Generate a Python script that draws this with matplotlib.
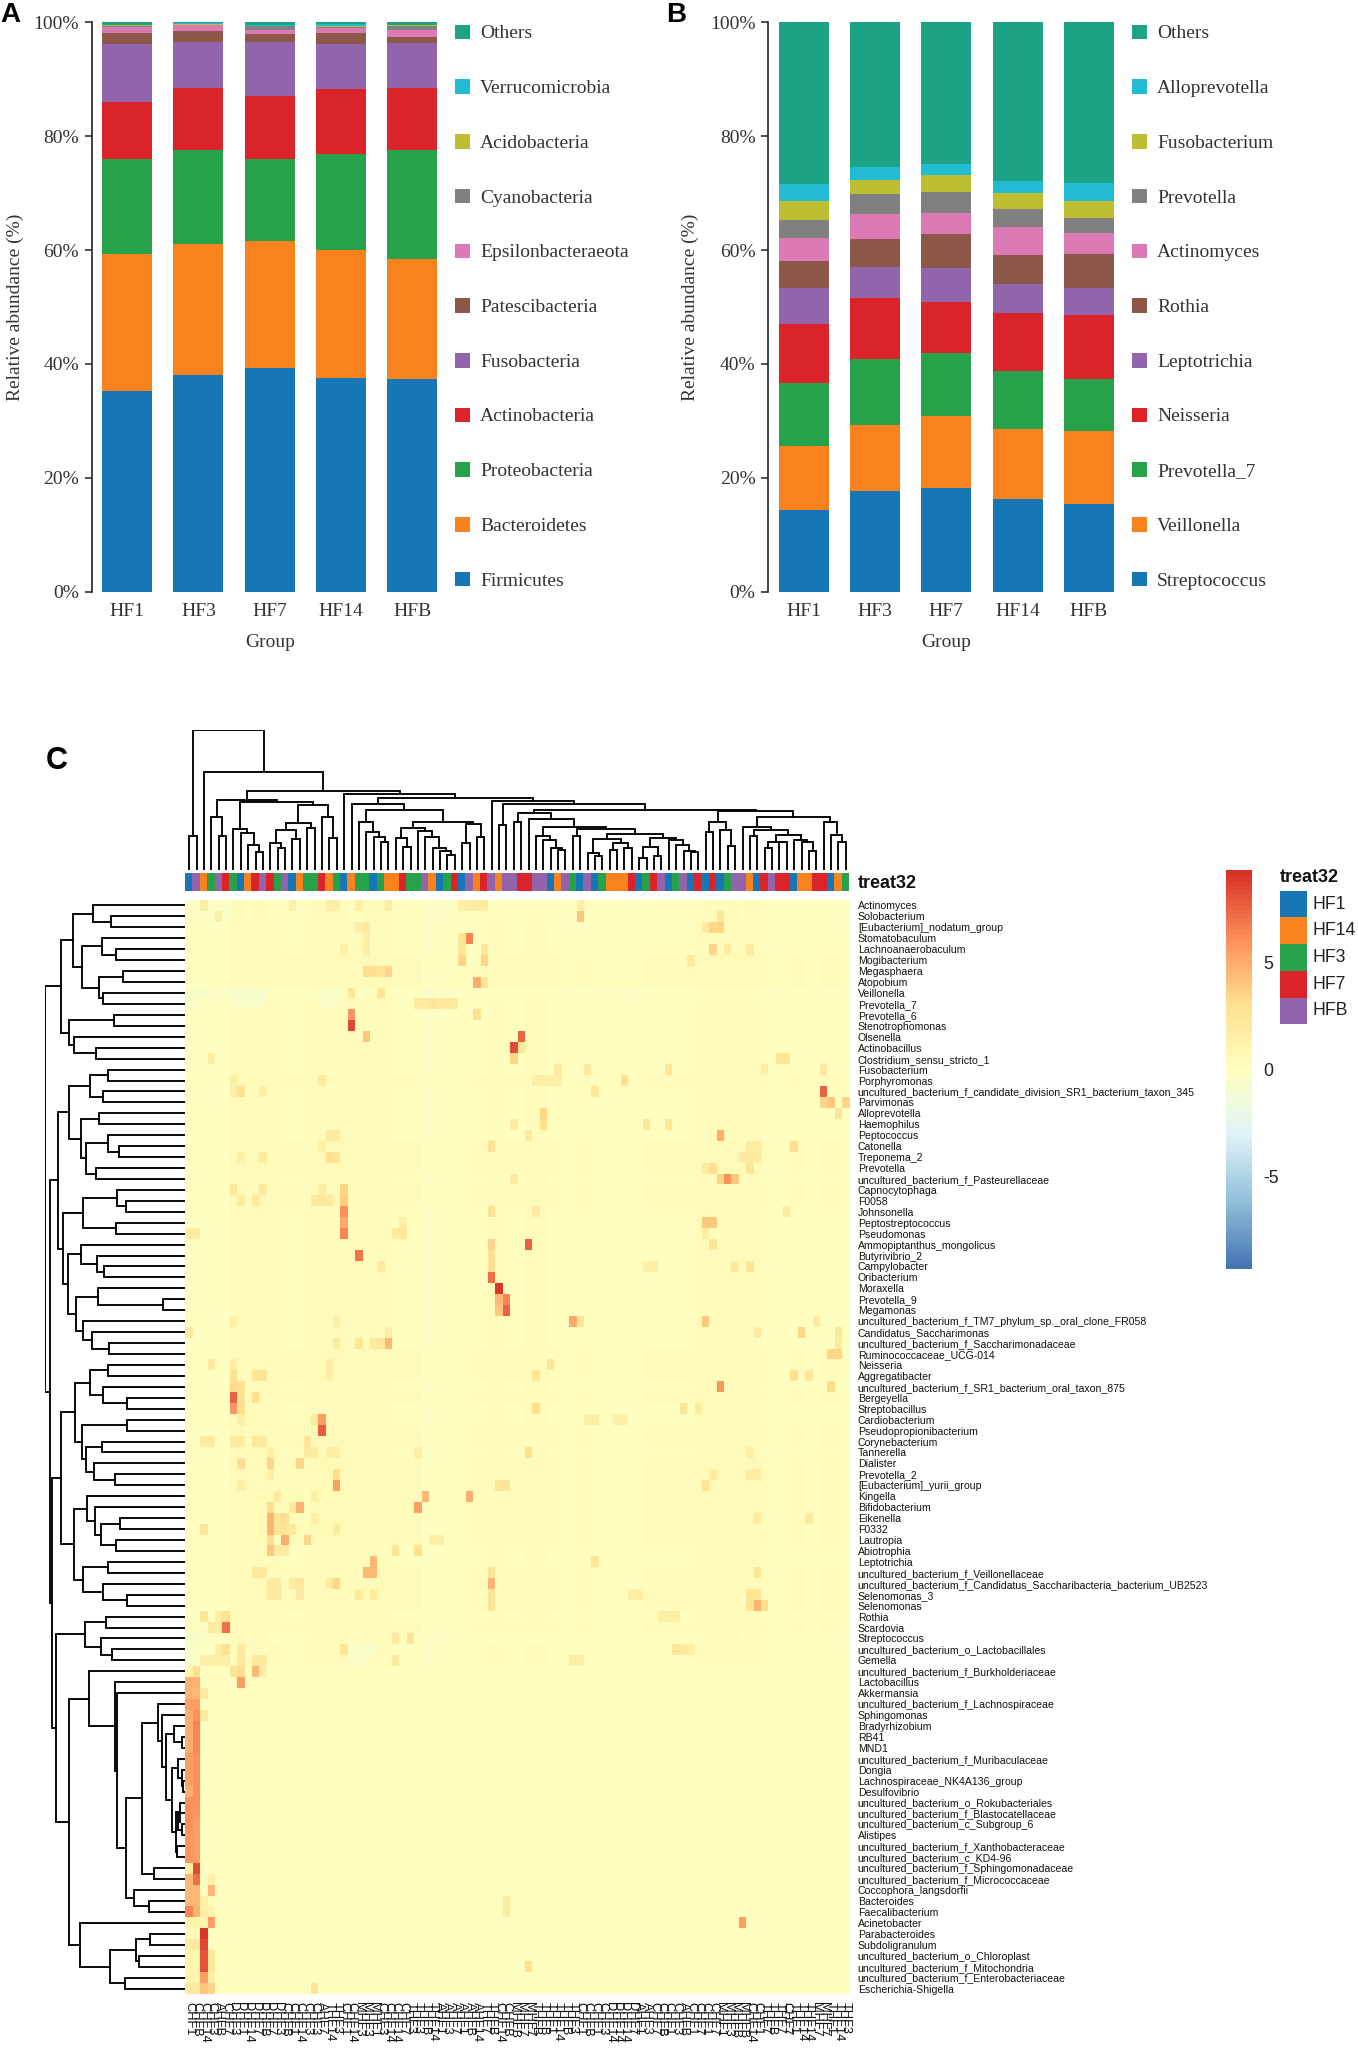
import numpy as np
import matplotlib
matplotlib.use("Agg")
import matplotlib.pyplot as plt
from matplotlib.colors import LinearSegmentedColormap, ListedColormap
from matplotlib.patches import Rectangle

W, H = 1358, 2048
SERIF = "Liberation Serif"
SANS = "Liberation Sans"

groups = ["HF1", "HF3", "HF7", "HF14", "HFB"]
bar_colors = ["#1776B6", "#F8821E", "#27A24A", "#DB2429", "#9264AB", "#8D5749",
              "#DC7AB5", "#808080", "#BDBE31", "#21BCD2", "#1DA385"]

# panel A, cumulative top of each taxon per group
taxa_a = ["Firmicutes", "Bacteroidetes", "Proteobacteria", "Actinobacteria", "Fusobacteria",
          "Patescibacteria", "Epsilonbacteraeota", "Cyanobacteria", "Acidobacteria",
          "Verrucomicrobia", "Others"]
a_hf1 = [35.3, 59.3, 76.0, 86.0, 96.2, 98.2, 99.1, 99.3, 99.5, 99.6, 100]
a_hf3 = [38.1, 61.0, 77.5, 88.5, 96.5, 98.5, 99.5, 99.6, 99.7, 99.8, 100]
a_hf7 = [39.3, 61.6, 76.0, 87.1, 96.5, 97.9, 98.7, 99.3, 99.4, 99.6, 100]
a_hf14 = [37.5, 60.0, 76.8, 88.3, 96.2, 98.2, 99.0, 99.2, 99.3, 99.7, 100]
a_hfb = [37.3, 58.5, 77.5, 88.5, 96.4, 97.5, 98.7, 99.3, 99.5, 99.6, 100]

# panel B
taxa_b = ["Streptococcus", "Veillonella", "Prevotella_7", "Neisseria", "Leptotrichia", "Rothia",
          "Actinomyces", "Prevotella", "Fusobacterium", "Alloprevotella", "Others"]
b_hf1 = [14.4, 25.6, 36.7, 47.0, 53.4, 58.0, 62.1, 65.3, 68.7, 71.6, 100]
b_hf3 = [17.7, 29.3, 40.9, 51.6, 57.0, 62.0, 66.4, 69.8, 72.3, 74.6, 100]
b_hf7 = [18.2, 30.9, 42.0, 50.8, 56.8, 62.8, 66.6, 70.2, 73.1, 75.2, 100]
b_hf14 = [16.3, 28.5, 38.8, 49.0, 54.0, 59.2, 64.0, 67.3, 70.1, 72.1, 100]
b_hfb = [15.5, 28.2, 37.3, 48.6, 53.4, 59.4, 63.0, 65.7, 68.6, 71.8, 100]

# heatmap rows
row_labels = [
    "Actinomyces", "Solobacterium", "[Eubacterium]_nodatum_group", "Stomatobaculum",
    "Lachnoanaerobaculum", "Mogibacterium", "Megasphaera", "Atopobium", "Veillonella",
    "Prevotella_7", "Prevotella_6", "Stenotrophomonas", "Olsenella", "Actinobacillus",
    "Clostridium_sensu_stricto_1", "Fusobacterium", "Porphyromonas",
    "uncultured_bacterium_f_candidate_division_SR1_bacterium_taxon_345", "Parvimonas",
    "Alloprevotella", "Haemophilus", "Peptococcus", "Catonella", "Treponema_2", "Prevotella",
    "uncultured_bacterium_f_Pasteurellaceae", "Capnocytophaga", "F0058", "Johnsonella",
    "Peptostreptococcus", "Pseudomonas", "Ammopiptanthus_mongolicus", "Butyrivibrio_2",
    "Campylobacter", "Oribacterium", "Moraxella", "Prevotella_9", "Megamonas",
    "uncultured_bacterium_f_TM7_phylum_sp._oral_clone_FR058", "Candidatus_Saccharimonas",
    "uncultured_bacterium_f_Saccharimonadaceae", "Ruminococcaceae_UCG-014", "Neisseria",
    "Aggregatibacter", "uncultured_bacterium_f_SR1_bacterium_oral_taxon_875", "Bergeyella",
    "Streptobacillus", "Cardiobacterium", "Pseudopropionibacterium", "Corynebacterium",
    "Tannerella", "Dialister", "Prevotella_2", "[Eubacterium]_yurii_group", "Kingella",
    "Bifidobacterium", "Eikenella", "F0332", "Lautropia", "Abiotrophia", "Leptotrichia",
    "uncultured_bacterium_f_Veillonellaceae",
    "uncultured_bacterium_f_Candidatus_Saccharibacteria_bacterium_UB2523", "Selenomonas_3",
    "Selenomonas", "Rothia", "Scardovia", "Streptococcus",
    "uncultured_bacterium_o_Lactobacillales", "Gemella", "uncultured_bacterium_f_Burkholderiaceae",
    "Lactobacillus", "Akkermansia", "uncultured_bacterium_f_Lachnospiraceae", "Sphingomonas",
    "Bradyrhizobium", "RB41", "MND1", "uncultured_bacterium_f_Muribaculaceae", "Dongia",
    "Lachnospiraceae_NK4A136_group", "Desulfovibrio", "uncultured_bacterium_o_Rokubacteriales",
    "uncultured_bacterium_f_Blastocatellaceae", "uncultured_bacterium_c_Subgroup_6", "Alistipes",
    "uncultured_bacterium_f_Xanthobacteraceae", "uncultured_bacterium_c_KD4-96",
    "uncultured_bacterium_f_Sphingomonadaceae", "uncultured_bacterium_f_Micrococcaceae",
    "Coccophora_langsdorfii", "Bacteroides", "Faecalibacterium", "Acinetobacter",
    "Parabacteroides", "Subdoligranulum", "uncultured_bacterium_o_Chloroplast",
    "uncultured_bacterium_f_Mitochondria", "uncultured_bacterium_f_Enterobacteriaceae",
    "Escherichia-Shigella",
]

# group of each column, in dendrogram order (index into heat_groups)
heat_groups = ["HF1", "HF14", "HF3", "HF7", "HFB"]
heat_group_colors = ["#1776B6", "#F8821E", "#27A24A", "#DB2429", "#9264AB"]
col_group = "BPOGPRGBORPRGPBOGGROGBOGGBGOORGGPOBGRBPORPOPPRRPPBOPGBPBGOOORBGRPBGPBRBRBGPPOBRPRRBOORRBOG"
first_letters = ("CCCCACDDDD" "DDDCCCCCAT" "TCCMMMCCCC" "TTTTAAAAAA" "TTCCMMMTTT"
                 "TTTCCCCDDD" "DAACCCCACC" "CCMMMMCCTT" "TCTTTMMTTT")
code_to_group = {"B": 0, "O": 1, "G": 2, "R": 3, "P": 4}

# background level per row, the lower part is flat
row_bg = [-0.1, -0.1, 0.0, 0.0, 0.0, 0.1, 0.1, 0.1, -0.2, 0.0,
          0.0, 0.0, 0.0, 0.0, 0.0, 0.0, 0.1, 0.0, 0.0, 0.0,
          0.0, 0.0, 0.1, 0.1, 0.1, 0.0, 0.1, 0.1, 0.0, 0.0,
          0.0, 0.0, 0.0, 0.0, 0.0, 0.0, 0.0, 0.0, 0.0, 0.0,
          0.0, 0.1, 0.1, 0.1, 0.0, 0.1, 0.0, 0.0, 0.1, 0.1,
          0.0, 0.1, 0.1, 0.1, 0.1, 0.1, 0.1, 0.1, 0.1, 0.0,
          0.0, 0.1, 0.1, 0.1, 0.1, 0.0, 0.1, -0.1, 0.0, 0.0,
          0.0, 0.1, 0.1, 0.1, 0.1, 0.1, 0.1, 0.1, 0.1, 0.1,
          0.1, 0.1, 0.1, 0.1, 0.1, 0.1, 0.1, 0.1, 0.1, 0.1,
          0.1, 0.1, 0.1, 0.1, 0.1, 0.1, 0.1, 0.1, 0.1, 0.1]
# column drift, only seen in the rows above the flat block
col_bg = [-0.2, -0.2, -0.1, -0.1, -0.1, -0.1, 0.3, 0.3, 0.2, 0.3,
          0.3, 0.2, 0.2, 0.1, 0.1, 0.1, 0.2, 0.3, 0.3, 0.3,
          0.3, 0.3, 0.2, 0.2, 0.3, 0.3, 0.3, 0.3, 0.1, 0.1,
          0.1, 0.1, -0.2, -0.2, -0.1, -0.1, -0.1, 0.0, 0.0, 0.1,
          0.1, 0.2, 0.2, 0.1, 0.1, 0.1, 0.2, 0.2, 0.2, 0.1,
          0.1, 0.0, 0.0, 0.1, 0.1, 0.0, 0.0, 0.0, 0.0, 0.0,
          -0.1, 0.0, 0.1, 0.1, 0.1, 0.1, 0.1, 0.1, 0.1, 0.2,
          0.3, 0.3, 0.3, 0.3, 0.3, 0.2, 0.3, 0.3, 0.1, 0.0,
          0.0, 0.0, 0.1, 0.1, 0.0, 0.0, 0.1, 0.1, 0.1, 0.0]

# cells with a clearly higher or lower value: (row, column, value)
hot_cells = [
    (1, 53, 4), (3, 38, 6.5), (3, 37, 2.5), (4, 37, 2.5), (5, 37, 3.5), (4, 40, 2.5), (5, 40, 3.5),
    (7, 39, 5), (7, 40, 2.5), (10, 39, 3), (12, 45, 7.5), (13, 44, 8.2), (13, 45, 2.5), (14, 44, 3.5),
    (2, 71, 3.5), (2, 72, 3.5), (1, 72, 2.5), (2, 70, 2), (4, 71, 3.5), (4, 73, 2), (4, 76, 2), (5, 68, 2),
    (17, 86, 7.5), (18, 86, 3.5), (18, 87, 4), (18, 89, 3.5), (19, 88, 2.5), (15, 86, 2),
    (19, 48, 3.5), (20, 48, 3), (16, 59, 3), (17, 55, 2.5), (15, 65, 2.5), (15, 50, 2), (15, 54, 2),
    (21, 72, 5), (22, 82, 3), (22, 41, 2.8), (21, 46, 2), (20, 62, 2.5), (20, 65, 2.5), (20, 44, 2),
    (24, 71, 3), (24, 70, 2), (24, 76, 2.5), (25, 72, 3.5), (25, 73, 6), (25, 74, 4), (25, 44, 2),
    (28, 41, 2.8), (28, 47, 2), (28, 81, 2), (29, 70, 4), (29, 71, 4), (30, 70, 2), (31, 71, 2.5),
    (31, 41, 3.5), (31, 46, 7.5), (32, 41, 3), (33, 41, 3), (34, 41, 7.2), (35, 42, 9), (36, 42, 4.5),
    (36, 43, 6.5), (37, 42, 4), (37, 43, 7.5), (33, 76, 2.5), (33, 74, 2), (38, 52, 5.2), (38, 53, 2.5),
    (38, 70, 4), (39, 83, 3.5), (38, 85, 2), (39, 77, 2), (41, 87, 3.5), (41, 88, 3.5), (39, 88, 2.5),
    (40, 88, 2), (42, 49, 2.5), (43, 47, 2.5), (43, 82, 2.8), (43, 84, 2.5), (44, 72, 5.8), (44, 87, 3.2),
    (46, 47, 3), (46, 67, 2.5), (46, 69, 2), (50, 46, 3), (53, 42, 2.5), (53, 43, 2.5), (54, 32, 4.5),
    (54, 38, 5), (55, 31, 5.5), (52, 71, 2), (53, 70, 2.5), (56, 77, 2), (56, 84, 2), (60, 55, 2.5),
    (62, 41, 4.8), (61, 41, 2.5), (63, 41, 2.5), (64, 41, 2.5), (61, 77, 2.5), (64, 77, 4.8), (64, 78, 3),
    (63, 76, 2.5), (63, 77, 2.5), (64, 76, 2.5), (68, 66, 2.5),
    (0, 2, 1.5), (1, 4, 1.8), (0, 14, 1.5), (0, 19, 1.8), (0, 20, 1.8), (0, 23, 1.5), (0, 27, 2),
    (2, 24, 2), (2, 23, 1.8), (3, 24, 1.5), (4, 24, 1.5), (4, 21, 1.5), (6, 25, 3), (6, 26, 2.5),
    (6, 27, 3.5), (6, 24, 3), (8, 26, 2.5), (8, 22, 2.5), (9, 31, 2), (10, 22, 5.8), (11, 22, 8.5),
    (12, 24, 4), (14, 3, 1.5), (16, 6, 1.5), (16, 18, 2), (17, 7, 2.8), (17, 10, 1.8), (17, 6, 1.5),
    (23, 19, 3), (23, 20, 2.5), (21, 19, 2), (21, 20, 2), (23, 10, 2), (23, 7, 1.5), (22, 18, 1.5),
    (26, 6, 2.5), (26, 10, 2.2), (26, 21, 3.5), (27, 21, 3.8), (26, 18, 1.8), (27, 17, 2.2), (27, 18, 2.2),
    (27, 19, 2.2), (27, 7, 2), (27, 9, 2), (28, 21, 6), (29, 21, 5.2), (30, 21, 6.5), (29, 29, 1.8),
    (30, 29, 2.5), (30, 28, 2), (30, 0, 2), (30, 1, 2),
    (32, 23, 7), (33, 26, 2), (38, 6, 1.5), (38, 20, 1.5), (39, 0, 2), (39, 27, 1.8), (40, 23, 2.5),
    (40, 25, 2.2), (40, 26, 2.2), (40, 27, 4.5), (40, 20, 2), (42, 6, 1.8), (42, 3, 2), (42, 19, 1.8),
    (43, 6, 2.8), (43, 9, 2.5), (43, 10, 2.5), (43, 19, 1.8), (44, 6, 3.2), (44, 7, 2.8), (45, 6, 7.5),
    (45, 7, 2.8), (45, 9, 3), (46, 6, 5.8), (46, 7, 3), (47, 18, 5.5), (47, 7, 1.8), (47, 17, 2),
    (48, 18, 7.8), (49, 2, 2), (49, 3, 2), (49, 6, 2), (49, 7, 2), (49, 9, 2.2), (49, 10, 2.2), (49, 16, 2.5),
    (50, 16, 2), (50, 17, 2), (50, 19, 1.8), (50, 20, 1.8), (50, 31, 1.8), (50, 11, 1.8), (51, 11, 3.5),
    (51, 7, 3), (51, 15, 3.5), (52, 20, 3), (53, 20, 5.5), (53, 7, 1.8), (52, 11, 1.8), (54, 12, 2),
    (54, 17, 1.5), (55, 11, 3), (55, 14, 2.2), (55, 15, 4.8), (56, 11, 4.8), (57, 11, 4.8), (56, 12, 2.5),
    (57, 12, 2.5), (56, 13, 3), (57, 13, 2.5), (57, 14, 2.2), (57, 2, 2.5), (57, 20, 2), (56, 17, 1.8),
    (58, 11, 3), (58, 13, 5), (58, 16, 3.5), (59, 11, 4), (59, 12, 2), (59, 13, 2), (59, 28, 2.5), (59, 31, 3),
    (60, 25, 4.5), (61, 24, 4.5), (61, 25, 4.5), (61, 9, 2.2), (61, 10, 2.2), (62, 11, 2), (62, 12, 2),
    (62, 14, 2.2), (62, 15, 2.2), (62, 19, 2), (62, 20, 3.5), (63, 11, 2), (63, 12, 2), (63, 15, 2),
    (63, 23, 2), (63, 25, 2),
    (65, 2, 2.5), (65, 5, 2.8), (65, 4, 1.8), (66, 5, 7.2), (66, 3, 2), (66, 4, 2), (67, 28, 2.2), (67, 30, 2.5),
    (68, 5, 2.8), (68, 4, 1.8), (68, 7, 2), (68, 21, 2.5), (69, 2, 1.5), (69, 3, 1.5), (69, 4, 1.5), (69, 5, 1.5),
    (69, 7, 2.2), (69, 9, 2.2), (69, 10, 2.2), (69, 28, 2), (70, 6, 2.5), (70, 7, 2.8), (70, 9, 4.5), (70, 10, 1.8),
    (71, 7, 5.5), (72, 2, 2), (74, 2, 2), (89, 3, 1.5), (90, 3, 4.5), (91, 2, 1.5), (92, 2, 1.5), (92, 3, 1),
    (93, 2, 1), (93, 3, 5.5), (94, 2, 9), (95, 2, 8.5), (96, 2, 8), (96, 3, 2.5), (97, 2, 8), (97, 3, 2.5),
    (98, 2, 5.5), (98, 3, 1.5), (99, 2, 4), (99, 3, 3.5), (99, 17, 2.5), (93, 75, 5.5), (97, 46, 3),
    (91, 43, 2), (92, 43, 2),
    # pale cool patches
    (8, 0, -0.6), (8, 1, -0.6), (8, 2, -0.6), (8, 6, -0.6), (8, 7, -0.6), (8, 8, -0.6), (8, 9, -0.6), (8, 10, -0.6),
    (9, 0, -0.5), (9, 1, -0.5), (9, 6, -0.5), (9, 7, -0.5), (9, 8, -0.5), (9, 9, -0.5), (9, 10, -0.5),
    (8, 18, -0.5), (8, 19, -0.5), (8, 20, -0.5), (9, 18, -0.5), (9, 19, -0.5), (9, 20, -0.5),
    (67, 0, -0.6), (67, 1, -0.6), (68, 0, -0.5), (68, 1, -0.5), (69, 0, -0.5), (69, 1, -0.5),
    (68, 22, -0.4), (68, 23, -0.4), (68, 24, -0.4), (68, 25, -0.4), (69, 22, -0.4), (69, 23, -0.4), (69, 24, -0.4),
    # soft warm patches in the right half
    (0, 37, 1.5), (0, 38, 1.5), (0, 39, 2), (0, 40, 2), (0, 53, 1.5), (9, 32, 2), (9, 33, 2.5), (9, 34, 2),
    (9, 35, 2), (9, 36, 2), (15, 78, 1.5), (16, 47, 1.5), (16, 48, 1.5), (16, 49, 1.5), (16, 50, 1.5),
    (14, 80, 2.5), (14, 81, 2.5), (22, 76, 1.8), (23, 75, 2), (23, 76, 2), (22, 77, 2), (23, 77, 2),
    (33, 62, 1.5), (33, 63, 1.5), (63, 60, 1.5), (63, 61, 1.5), (65, 64, 1.5), (65, 65, 1.5), (65, 66, 1.5),
    (68, 67, 2), (68, 68, 1.5), (69, 52, 1.5), (69, 53, 1.5), (47, 54, 1.5), (47, 55, 1.5), (47, 58, 1.5), (47, 59, 1.5),
    (50, 76, 1.5), (52, 76, 1.8), (52, 77, 1.8), (58, 33, 1.5), (58, 34, 1.5),
]
# the first two columns carry the strong block at the bottom, rows 70 to 99
left_col0 = [1, 4.8, 4.8, 5.5, 5, 5, 5, 5, 5.5, 5.5, 5.5, 5, 6, 6, 6, 5.8, 5.8, 5.8, 1.5, 4.5,
             4.5, 4.5, 6.5, 1, 0.5, 2, 1, 1, 1, 2]
left_col1 = [3, 4.8, 4.5, 5.5, 6, 6.5, 6.5, 6.5, 6, 6, 6, 6, 6, 5.8, 5.5, 5.5, 5.5, 5.5, 8.2, 7.2,
             4.5, 4.5, 4.8, 1, 0.5, 2, 1, 1, 1, 2]


# dendrograms as nested [height, left, right], ints are leaves
t_a = [276, 0, [223, 1, 2]]
t_b = [250, 3, [208, 4, 5]]
t_c = [258, [188, 6, 7], [248, 8, 9]]
t_d = [309, t_b, t_c]
t_e = [338, t_a, t_d]
t_f = [349, [214, 10, 11], [333, 12, [268, 13, 14]]]
top15 = [373, t_e, t_f]
g1 = [286, [231, 15, 16], [246, 17, 18]]
g3 = [233, 21, [199, 22, 23]]
g4 = [299, g3, [268, 24, 25]]
g6 = [349, g1, [314, [259, 19, 20], g4]]
h1 = [306, [204, 26, [179, 27, 28]], [208, 29, 30]]
h2 = [314, 31, [266, 32, [244, 33, 34]]]
h5 = [329, [263, 35, [66, 36, 37]], [306, 38, [281, 39, [228, 40, 41]]]]
g7 = [381, g6, [366, h1, [351, h2, h5]]]
i1 = [285, [231, 42, 43], [248, 44, [176, 45, 46]]]
i5 = [298, [250, 49, 50], [274, 51, [211, 52, 53]]]
i7 = [331, i1, [311, [175, 47, 48], i5]]
j1 = [294, 54, [271, 55, [252, [195, 56, 57], [208, 58, 59]]]]
j4 = [306, [232, 60, 61], [246, 62, [175, 63, 64]]]
i8 = [374, i7, [333, j1, j4]]
k1 = [301, [238, 65, 66], [254, 67, [220, 68, 69]]]
m_a = [34, 75, [11, 76, 77]]
m_b = [21, 78, [11, 79, [8, 80, 81]]]
m_c = [16, 82, [21, 83, [11, 84, 85]]]
m_e = [41, m_b, [29, m_c, [26, 86, 87]]]
m_h = [83, 73, [69, 74, [58, m_a, m_e]]]
m_k = [178, [131, m_h, [93, 88, 89]], [154, 90, [108, 91, 92]]]
m_o = [288, 70, [212, 71, [206, 72, m_k]]]
m_p = [316, 93, [226, [148, [106, 94, 95], [139, 96, 97]], [180, 98, 99]]]
row_tree = [421, top15, [406, g7, [401, i8, [388, k1, [348, m_o, m_p]]]]]

c_l172 = [124, 6, [113, 7, [76, 8, [56, 9, 10]]]]
c_n315 = [121, [83, 11, [66, 12, 13]], [93, 14, 15]]
c_n295 = [141, c_n315, [126, 16, 17]]
c_r390 = [196, c_n295, [161, 18, [96, 19, 20]]]
c_n225 = [210, [161, 3, [104, 4, 5]], [206, c_l172, c_r390]]
c_n310 = [126, [96, 28, [71, 29, 30]], [118, 31, [101, 32, [68, 33, [58, 34, [46, 35, 36]]]]]]
c_n290 = [146, c_n310, [138, [83, 37, 38], [100, 39, 40]]]
c_n255 = [181, [146, 23, [116, 24, [99, 25, [86, 26, 27]]]], c_n290]
c_n343 = [93, [51, 54, [44, 55, 56]], [83, [61, 57, 58], [68, 59, 60]]]
c_n340 = [96, [71, [38, 61, 62], [44, 63, 64]], [91, 65, [76, 66, [59, 67, [55, 68, 69]]]]]
c_n313 = [123, [103, 52, 53], [109, c_n343, c_n340]]
c_n305 = [131, [104, 47, [91, 48, [68, 49, [61, 50, 51]]]], c_n313]
c_n263 = [173, [146, 44, 45], [154, 46, c_n305]]
c_n330 = [106, [86, [68, 78, 79], [84, 80, 81]], [91, 82, [86, 83, [58, 84, 85]]]]
c_n275 = [161, [131, 75, [121, [103, 76, 77], c_n330]], [146, 86, [106, 87, [86, 88, 89]]]]
c_n258 = [178, [146, [114, 70, 71], [120, 72, [74, 73, 74]]], c_n275]
c_n228 = [208, 41, [198, [136, 42, 43], [182, c_n263, c_n258]]]
c_n220 = [216, [198, 22, c_n255], c_n228]
col_tree = [421, [104, 0, 1], [296, 2, [238, c_n225, [229, 21, c_n220]]]]

color_ticks = [-5, 0, 5]
heat_max = 9.3


def add_ax(fig, left, top, right, bottom):
    # axes from pixel edges of the figure
    return fig.add_axes([left / W, 1 - bottom / H, (right - left) / W, (bottom - top) / H])


def stacked_panel(fig, left, right, tops_by_group):
    ax = add_ax(fig, left, 22.3, right, 591.8)
    tops = np.array(tops_by_group)
    base = np.zeros(len(groups))
    for i, c in enumerate(bar_colors):
        ax.bar(np.arange(len(groups)), tops[:, i] - base, 0.7, bottom=base, color=c, linewidth=0)
        base = tops[:, i]
    ax.set_xlim(-0.5, 4.5)
    ax.set_ylim(0, 100)
    ax.set_xticks(range(len(groups)))
    ax.set_xticklabels(groups, fontfamily=SERIF, fontsize=14, color="#333333")
    ax.set_yticks(range(0, 101, 20))
    ax.set_yticklabels([f"{v}%" for v in range(0, 101, 20)], fontfamily=SERIF, fontsize=14, color="#333333")
    ax.tick_params(axis="x", length=0, pad=8)
    ax.tick_params(axis="y", length=5, width=1.1, color="#222222", pad=4)
    for s in ["top", "right", "bottom"]:
        ax.spines[s].set_visible(False)
    ax.spines["left"].set_linewidth(1.2)
    ax.spines["left"].set_color("#222222")
    ax.set_xlabel("Group", fontfamily=SERIF, fontsize=14, color="#333333", labelpad=10)
    return ax


def draw_tree(ax, node, vertical):
    # returns leaf-axis position of the node, leaves sit at their cell centre
    if isinstance(node, int):
        return node + 0.5, 0
    h, a, b = node
    pa, ha = draw_tree(ax, a, vertical)
    pb, hb = draw_tree(ax, b, vertical)
    pos = [pa, pa, pb, pb]
    hgt = [ha, h, h, hb]
    if vertical:
        ax.plot(pos, hgt, color="black", lw=1.35, solid_capstyle="projecting", solid_joinstyle="miter")
    else:
        ax.plot(hgt, pos, color="black", lw=1.35, solid_capstyle="projecting", solid_joinstyle="miter")
    return (pa + pb) / 2, h


fig = plt.figure(figsize=(W / 100, H / 100), dpi=100)

# panels A and B
stacked_panel(fig, 91.5, 448, [a_hf1, a_hf3, a_hf7, a_hf14, a_hfb])
stacked_panel(fig, 768, 1124.5, [b_hf1, b_hf3, b_hf7, b_hf14, b_hfb])

# heatmap
n_rows, n_cols = len(row_labels), len(col_group)
data = np.tile(np.array(row_bg)[:, None], (1, n_cols))
data[:70] += np.array(col_bg)
for r, c, v in hot_cells:
    data[r, c] = v
data[70:, 0] = left_col0
data[70:, 1] = left_col1

cmap = LinearSegmentedColormap.from_list(
    "heat", ["#4575B4", "#91BFDB", "#E0F3F8", "#FFFFBF", "#FEE090", "#FC8D59", "#D73027"], N=100)
heat = add_ax(fig, 185.5, 900, 849.5, 1994)
mesh = heat.pcolormesh(np.arange(n_cols + 1), np.arange(n_rows + 1), data, cmap=cmap,
                       vmin=-heat_max, vmax=heat_max, linewidth=0)
heat.set_xlim(0, n_cols)
heat.set_ylim(n_rows, 0)
heat.yaxis.tick_right()
heat.set_yticks(np.arange(n_rows) + 0.5)
heat.set_yticklabels(row_labels, fontfamily=SANS, fontsize=7.6, color="#111111")
col_labels = [first_letters[i] + "HF" + heat_groups[code_to_group[col_group[i]]].replace("HF", "")
              for i in range(n_cols)]
heat.set_xticks(np.arange(n_cols) + 0.5)
heat.set_xticklabels(col_labels, rotation=270, fontfamily=SANS, fontsize=9.3, color="#111111")
heat.tick_params(axis="y", length=0, pad=6)
heat.tick_params(axis="x", length=0, pad=6)
for s in heat.spines.values():
    s.set_visible(False)

# group strip
strip = add_ax(fig, 185.5, 872.7, 849.5, 891)
strip.imshow(np.array([[code_to_group[c] for c in col_group]]), aspect="auto",
             cmap=ListedColormap(heat_group_colors), vmin=0, vmax=4, interpolation="nearest")
strip.axis("off")

# dendrograms
top = add_ax(fig, 185.5, 730, 849.5, 870.3)
draw_tree(top, col_tree, True)
top.set_xlim(0, n_cols)
top.set_ylim(0, 421)
top.axis("off")
side = add_ax(fig, 45, 900, 185.5, 1994)
draw_tree(side, row_tree, False)
side.set_xlim(421, 0)
side.set_ylim(n_rows, 0)
side.axis("off")

# colour bar
cax = add_ax(fig, 1226, 870, 1252.3, 1269)
cb = fig.colorbar(mesh, cax=cax, ticks=color_ticks)
cb.outline.set_visible(False)
cb.ax.tick_params(length=0, pad=8)
for t in cb.ax.get_yticklabels():
    t.set_fontfamily(SANS)
    t.set_fontsize(12.7)
    t.set_color("#222222")
cb.ax.set_yticklabels([str(v) for v in color_ticks])

# overlay in figure pixels for legends and letters
ov = fig.add_axes([0, 0, 1, 1], zorder=-1)
ov.set_xlim(0, W)
ov.set_ylim(H, 0)
ov.axis("off")

for x_sq, x_txt, names in [(455, 480, taxa_a), (1131.8, 1157, taxa_b)]:
    for i, name in enumerate(names):
        y = 32 + 54.7 * (10 - i)
        ov.add_patch(Rectangle((x_sq, y - 7.3), 14.8, 14.6, color=bar_colors[i], lw=0))
        ov.text(x_txt, y + 2, name, fontfamily=SERIF, fontsize=14, color="#333333", va="center", ha="left")

ov.text(15, 307, "Relative abundance (%)", fontfamily=SERIF, fontsize=14, color="#333333",
        rotation=90, ha="center", va="center")
ov.text(690, 307, "Relative abundance (%)", fontfamily=SERIF, fontsize=14, color="#333333",
        rotation=90, ha="center", va="center")

ov.text(0, 15, "A", fontfamily=SANS, fontweight="bold", fontsize=20, color="black", ha="left", va="center")
ov.text(666, 15, "B", fontfamily=SANS, fontweight="bold", fontsize=20, color="black", ha="left", va="center")
ov.text(46, 761, "C", fontfamily=SANS, fontweight="bold", fontsize=22, color="black", ha="left", va="center")

ov.text(858, 883, "treat32", fontfamily=SANS, fontweight="bold", fontsize=13, color="#111111", va="center")
ov.text(1280, 878, "treat32", fontfamily=SANS, fontweight="bold", fontsize=13, color="#111111", va="center")
for i, name in enumerate(heat_groups):
    y = 890.7 + 26.7 * i
    ov.add_patch(Rectangle((1280, y), 27, 26.7, color=heat_group_colors[i], lw=0))
    ov.text(1312, y + 13.4, name, fontfamily=SANS, fontsize=12.7, color="#222222", va="center")

fig.savefig("out.png", dpi=100)
